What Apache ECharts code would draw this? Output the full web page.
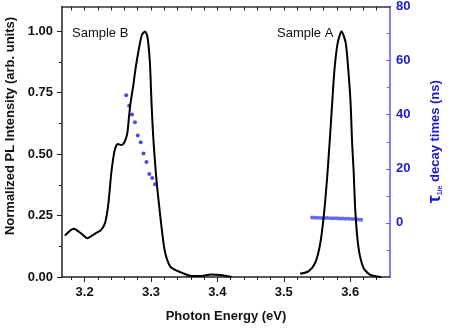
<!DOCTYPE html>
<html>
<head>
<meta charset="utf-8">
<script src="https://cdn.jsdelivr.net/npm/echarts@6/dist/echarts.min.js"></script>
<style>
  html, body { margin: 0; padding: 0; background: #fff; }
  #chart { width: 452px; height: 328px; }
</style>
</head>
<body>
<div id="chart"></div>
<script>
// PL spectra (normalized)
var bEnergy = [3.1704, 3.1834, 3.1936, 3.2041, 3.2110, 3.2186, 3.2250, 3.2308, 3.2356, 3.2404,
  3.2453, 3.2501, 3.2549, 3.2584, 3.2621, 3.2646, 3.2671, 3.2694, 3.2733, 3.2766,
  3.2816, 3.2864, 3.2911, 3.2946, 3.2984, 3.3008, 3.3033, 3.3081, 3.3139, 3.3165,
  3.3193, 3.3226, 3.3274, 3.3323, 3.3468, 3.3613, 3.3758, 3.3904, 3.4048, 3.4216];
var bIntensity = [0.168, 0.196, 0.180, 0.158, 0.168, 0.181, 0.192, 0.219, 0.293, 0.427,
  0.515, 0.541, 0.537, 0.541, 0.562, 0.589, 0.656, 0.710, 0.777, 0.844,
  0.925, 0.985, 0.998, 0.978, 0.871, 0.710, 0.575, 0.400, 0.250, 0.190,
  0.130, 0.085, 0.050, 0.035, 0.017, 0.004, 0.004, 0.010, 0.008, 0.000];

var aEnergy = [3.5246, 3.5377, 3.5474, 3.5546, 3.5604, 3.5652, 3.5691, 3.5730, 3.5764, 3.5812,
  3.5870, 3.5933, 3.5971, 3.6006, 3.6029, 3.6053, 3.6078, 3.6126, 3.6199, 3.6296, 3.6464];
var aIntensity = [0.013, 0.024, 0.058, 0.131, 0.252, 0.400, 0.548, 0.710, 0.844, 0.952,
  0.998, 0.952, 0.844, 0.710, 0.548, 0.427, 0.266, 0.118, 0.038, 0.010, 0.000];

// decay times (ns)
var bTauEnergy = [3.2627, 3.2671, 3.2714, 3.2758, 3.2801, 3.2845, 3.2888, 3.2932, 3.2975, 3.3019, 3.3062];
var bTau = [47.2, 43.3, 40.1, 37.2, 32.3, 29.8, 25.7, 22.5, 18.1, 16.6, 14.3];

var aTauEnergy = [3.5426, 3.5472, 3.5518, 3.5564, 3.5610, 3.5656, 3.5703, 3.5749, 3.5795,
  3.5841, 3.5887, 3.5934, 3.5980, 3.6026, 3.6072, 3.6118, 3.6165];
var aTau = [2.0, 1.9, 1.9, 1.8, 1.8, 1.8, 1.7, 1.7, 1.7, 1.6, 1.6, 1.5, 1.5, 1.4, 1.4, 1.3, 1.2];

// ticks
var xMajorTicks = [3.2, 3.3, 3.4, 3.5, 3.6];
var xMinorTicks = [3.18, 3.22, 3.24, 3.26, 3.28, 3.32, 3.34, 3.36, 3.38, 3.42, 3.44, 3.46, 3.48,
  3.52, 3.54, 3.56, 3.58, 3.62, 3.64];
var yMajorTicks = [0, 0.25, 0.5, 0.75, 1.0];
var yMinorTicks = [0.125, 0.375, 0.625, 0.875];

var FONT = '"Liberation Sans", Arial, sans-serif';
var BLUE = '#1a1acc';
var BLUE_LINE = '#5a5aff';

function pairs(xs, ys) {
  return xs.map(function (x, i) { return [x, ys[i]]; });
}

var myChart = echarts.init(document.getElementById('chart'), null, {renderer: 'canvas'});
var option = {
  animation: false,
  backgroundColor: '#fff',
  grid: {left: 62, right: 49, top: 6, bottom: 49},
  graphic: [
    {
      type: 'text', x: 10, y: 126, rotation: Math.PI / 2,
      style: {
        text: 'Normalized PL Intensity (arb. units)', fill: '#111',
        font: 'bold 13px ' + FONT, align: 'center', verticalAlign: 'middle'
      }
    },
    {
      type: 'text', x: 72, y: 33,
      style: {text: 'Sample B', fill: '#111', font: '13px ' + FONT, align: 'left', verticalAlign: 'middle'}
    },
    {
      type: 'text', x: 277, y: 33,
      style: {text: 'Sample A', fill: '#111', font: '13px ' + FONT, align: 'left', verticalAlign: 'middle'}
    }
  ],
  xAxis: [
    {
      type: 'value', min: 3.166, max: 3.66, position: 'bottom',
      name: 'Photon Energy (eV)', nameLocation: 'middle', nameGap: 33,
      nameTextStyle: {color: '#111', fontFamily: FONT, fontWeight: 'bold', fontSize: 13},
      axisLine: {onZero: false, lineStyle: {color: '#222', width: 1.5}},
      axisTick: {customValues: xMajorTicks, length: 5, inside: false, lineStyle: {color: '#222', width: 1}},
      axisLabel: {
        customValues: xMajorTicks, margin: 9, color: '#111', fontFamily: FONT, fontWeight: 'bold', fontSize: 13,
        formatter: function (v) { return v.toFixed(1); }
      },
      splitLine: {show: false}
    },
    {
      type: 'value', min: 3.166, max: 3.66, position: 'bottom',
      axisLine: {show: false, onZero: false},
      axisTick: {customValues: xMinorTicks, length: 3, inside: false, lineStyle: {color: '#222', width: 1}},
      axisLabel: {show: false},
      splitLine: {show: false}
    },
    {
      type: 'value', min: 3.166, max: 3.66, position: 'top',
      axisLine: {onZero: false, lineStyle: {color: '#333', width: 1.5}},
      axisTick: {customValues: xMajorTicks.concat(xMinorTicks), length: 4, inside: true, lineStyle: {color: '#222', width: 1}},
      axisLabel: {show: false},
      splitLine: {show: false}
    }
  ],
  yAxis: [
    {
      type: 'value', min: 0, max: 1.1, position: 'left',
      axisLine: {show: true, onZero: false, lineStyle: {color: '#222', width: 1.5}},
      axisTick: {show: true, customValues: yMajorTicks, length: 5, inside: false, lineStyle: {color: '#222', width: 1}},
      axisLabel: {
        customValues: yMajorTicks, margin: 9, color: '#111', fontFamily: FONT, fontWeight: 'bold', fontSize: 13,
        formatter: function (v) { return v.toFixed(2); }
      },
      splitLine: {show: false}
    },
    {
      type: 'value', min: 0, max: 1.1, position: 'left',
      axisLine: {show: false, onZero: false},
      axisTick: {show: true, customValues: yMinorTicks, length: 3, inside: false, lineStyle: {color: '#222', width: 1}},
      axisLabel: {show: false},
      splitLine: {show: false}
    },
    {
      type: 'value', min: -20, max: 80, interval: 20, position: 'right',
      name: '{tau|τ}{sub|1/e}{txt| decay times (ns)}', nameLocation: 'middle', nameGap: 36,
      nameTextStyle: {
        color: BLUE, fontFamily: FONT, fontWeight: 'bold', fontSize: 13,
        rich: {
          tau: {fontSize: 18, fontWeight: 'bold', color: BLUE, fontFamily: FONT},
          sub: {fontSize: 7, fontWeight: 'bold', color: BLUE, fontFamily: FONT, verticalAlign: 'bottom', padding: [9, 0, 0, 0]},
          txt: {fontSize: 13, fontWeight: 'bold', color: BLUE, fontFamily: FONT}
        }
      },
      axisLine: {show: true, onZero: false, lineStyle: {color: BLUE_LINE, width: 1.5}},
      axisTick: {show: true, length: 4, inside: true, lineStyle: {color: BLUE_LINE, width: 1}},
      minorTick: {show: true, splitNumber: 2, length: 3, lineStyle: {color: BLUE_LINE, width: 1}},
      axisLabel: {
        margin: 6, color: BLUE, fontFamily: FONT, fontWeight: 'bold', fontSize: 13,
        formatter: function (v) { return v < 0 ? '' : String(v); }
      },
      splitLine: {show: false},
      minorSplitLine: {show: false}
    }
  ],
  series: [
    {
      name: 'Sample B', type: 'line', xAxisIndex: 0, yAxisIndex: 0,
      data: pairs(bEnergy, bIntensity), showSymbol: false, smooth: 0.25,
      lineStyle: {color: '#000', width: 2}
    },
    {
      name: 'Sample A', type: 'line', xAxisIndex: 0, yAxisIndex: 0,
      data: pairs(aEnergy, aIntensity), showSymbol: false, smooth: 0.25,
      lineStyle: {color: '#000', width: 2}
    },
    {
      name: 'tau B', type: 'scatter', xAxisIndex: 0, yAxisIndex: 2,
      data: pairs(bTauEnergy, bTau), symbolSize: 4,
      itemStyle: {color: '#1c1ce0'}
    },
    {
      name: 'tau A', type: 'scatter', xAxisIndex: 0, yAxisIndex: 2,
      data: pairs(aTauEnergy, aTau), symbolSize: 4,
      itemStyle: {color: '#4646ee'}
    }
  ]
};
option && myChart.setOption(option);
</script>
</body>
</html>
